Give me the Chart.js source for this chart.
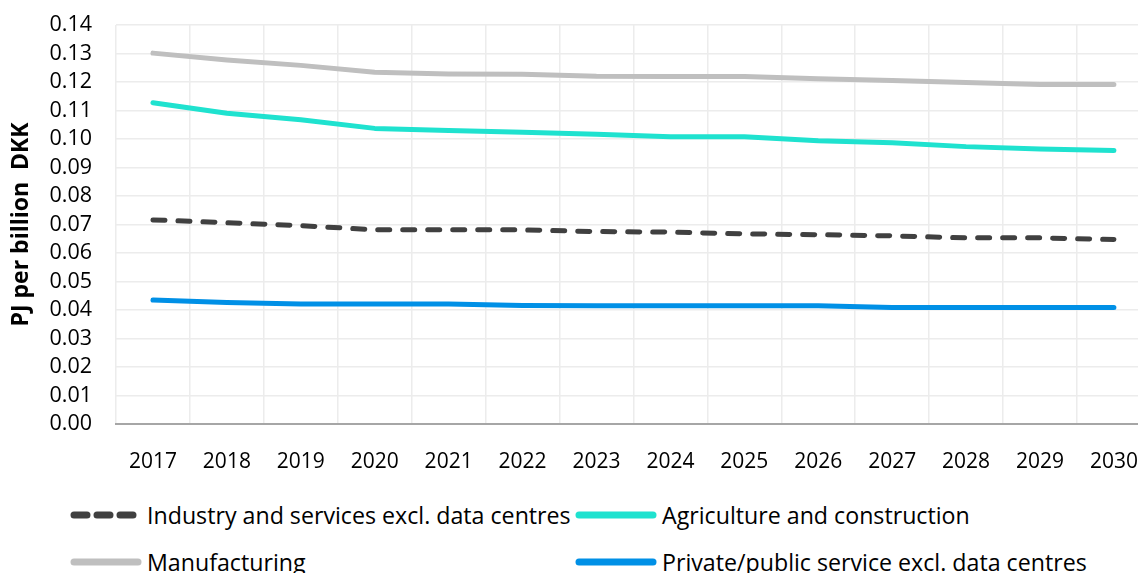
<!DOCTYPE html>
<html>
<head>
<meta charset="utf-8">
<script src="https://cdn.jsdelivr.net/npm/chart.js@4"></script>
<style>
  html, body { margin: 0; padding: 0; background: #fff; overflow: hidden; }
  #wrap { position: relative; width: 1138px; height: 573px; overflow: hidden; }
  #chartBox { position: absolute; left: 0; top: -12px; width: 1163px; height: 492px; }
  #legend { position: absolute; left: 70px; top: 501px; width: 1100px;
    display: grid; grid-template-columns: 505px 560px; row-gap: 19px;
    font-family: "Open Sans", sans-serif; font-size: 23.2px; color: #000; }
  .item { display: flex; align-items: center; height: 28px; white-space: nowrap; }
  .item svg { margin-right: 5px; flex: none; }
</style>
</head>
<body>
<div id="wrap">
  <div id="chartBox"><canvas id="lineChart" width="1163" height="492"></canvas></div>
  <div id="legend"></div>
</div>
<script>
const years = ["2017", "2018", "2019", "2020", "2021", "2022", "2023", "2024", "2025", "2026", "2027", "2028", "2029", "2030"];

const industry = [0.0716, 0.0706, 0.0696, 0.0681, 0.0681, 0.0681, 0.0675, 0.0673, 0.0667, 0.0664, 0.0660, 0.0653, 0.0653, 0.0647];
const agriculture = [0.1127, 0.1090, 0.1067, 0.1037, 0.1030, 0.1023, 0.1016, 0.1008, 0.1008, 0.0994, 0.0987, 0.0973, 0.0965, 0.0959];
const manufacturing = [0.1301, 0.1277, 0.1258, 0.1234, 0.1228, 0.1227, 0.1220, 0.1219, 0.1219, 0.1211, 0.1205, 0.1198, 0.1191, 0.1191];
const privateService = [0.0435, 0.0426, 0.0421, 0.0421, 0.0421, 0.0416, 0.0415, 0.0415, 0.0415, 0.0415, 0.0409, 0.0409, 0.0409, 0.0409];

const seriesNames = [
  "Industry and services excl. data centres",
  "Agriculture and construction",
  "Manufacturing",
  "Private/public service excl. data centres"
];

const yTicksMax = 0.14;
const yTicksStep = 0.01;

document.addEventListener("DOMContentLoaded", () => {
  const datasets = [
    { label: seriesNames[0], data: industry, borderColor: "#404040", borderDash: [12, 13] },
    { label: seriesNames[1], data: agriculture, borderColor: "#1fe2cf" },
    { label: seriesNames[2], data: manufacturing, borderColor: "#bfbfbf" },
    { label: seriesNames[3], data: privateService, borderColor: "#0090e6" }
  ];
  drawLineChart(datasets);
  buildLegend(datasets);
});

function drawLineChart(datasets) {
  const ctx = document.getElementById("lineChart").getContext("2d");
  new Chart(ctx, {
    type: "line",
    data: {
      labels: years,
      datasets: datasets.map(d => ({
        ...d,
        borderWidth: 5,
        borderCapStyle: "round",
        borderJoinStyle: "round",
        pointRadius: 0,
        tension: 0,
        fill: false
      }))
    },
    options: {
      responsive: false,
      animation: false,
      layout: { padding: { left: 3, right: 2, top: 13, bottom: 0 } },
      plugins: { legend: { display: false }, tooltip: { enabled: false } },
      scales: {
        x: {
          offset: true,
          grid: { offset: true, color: "#ececec", lineWidth: 1.5, drawTicks: false },
          border: { color: "#a6a6a6", width: 2 },
          ticks: {
            color: "#000",
            font: { family: "Open Sans", size: 21 },
            padding: 25,
            maxRotation: 0,
            autoSkip: false
          },
          afterFit: scale => { scale.height = 56; }
        },
        y: {
          min: 0,
          max: yTicksMax,
          grid: { color: "#ececec", lineWidth: 1.5, drawTicks: false },
          border: { display: false },
          ticks: {
            stepSize: yTicksStep,
            autoSkip: false,
            color: "#000",
            font: { family: "Open Sans", size: 21.5 },
            padding: 24,
            callback: value => value.toFixed(2)
          },
          title: {
            display: true,
            text: "PJ per billion  DKK",
            color: "#000",
            font: { family: "Open Sans", size: 23, weight: "bold" },
            padding: { top: 5, bottom: 0 }
          },
          afterFit: scale => { scale.width = 113; }
        }
      }
    }
  });
}

// legend as a two-column grid, like the original
function buildLegend(datasets) {
  const legend = document.getElementById("legend");
  datasets.forEach((d, i) => {
    const item = document.createElement("div");
    item.className = "item";
    const dash = d.borderDash ? `stroke-dasharray="13 10"` : "";
    const w = i % 2 === 0 ? 72 : 82;
    item.innerHTML = `
      <svg width="${w}" height="10"><line x1="4" y1="5" x2="${w - 4}" y2="5"
        stroke="${d.borderColor}" stroke-width="7" stroke-linecap="round" ${dash}/></svg>
      <span>${d.label}</span>`;
    legend.appendChild(item);
  });
}
</script>
</body>
</html>
